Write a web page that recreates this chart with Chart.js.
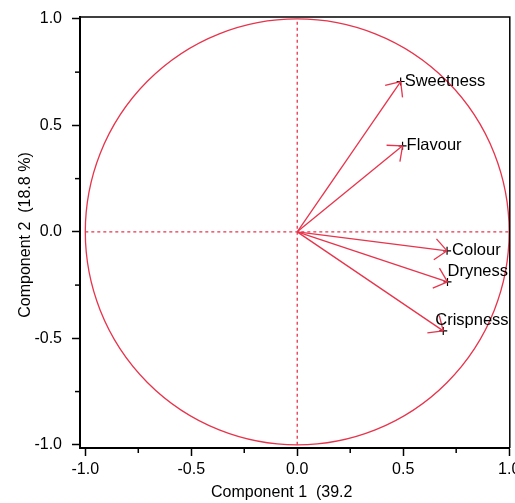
<!DOCTYPE html>
<html>
<head>
<meta charset="utf-8">
<script src="https://cdn.jsdelivr.net/npm/chart.js@4"></script>
<style>
  body { margin: 0; background: #fff; }
  canvas { display: block; }
</style>
</head>
<body>
<canvas id="loadingPlot" width="515" height="503"></canvas>
<script>
// loadings
const variables = ['Sweetness', 'Flavour', 'Colour', 'Dryness', 'Crispness'];
const comp1 = [0.488, 0.497, 0.707, 0.709, 0.689];
const comp2 = [0.706, 0.404, -0.089, -0.235, -0.465];
const majorTicks = [-1, -0.5, 0, 0.5, 1];
const majorTickLabels = ['-1.0', '-0.5', '0.0', '0.5', '1.0'];
const minorTicks = [-0.75, -0.25, 0.25, 0.75];
const xTitle = 'Component 1  (39.2';
const yTitle = 'Component 2  (18.8 %)';

const RED = '#e8334b';
const FONT = 'Liberation Sans, Arial, sans-serif';
// label nudges in px (to keep labels apart like the original)
const labelNudge = [[4, 0], [4, 0], [5, 0], [0, -10], [-8, -10]];

const points = variables.map((v, i) => ({ x: comp1[i], y: comp2[i] }));

const datasets = [
    { data: [{ x: -1, y: 0 }, { x: 1, y: 0 }], borderDash: [3, 3] },
    { data: [{ x: 0, y: -1 }, { x: 0, y: 1 }], borderDash: [3, 3] }
].map(d => Object.assign(d, {
    showLine: true, borderColor: RED, borderWidth: 1.3, pointRadius: 0
}));

points.forEach(p => {
    datasets.push({
        data: [{ x: 0, y: 0 }, p],
        showLine: true, borderColor: RED, borderWidth: 1.3, pointRadius: 0
    });
});

datasets.push({
    data: points,
    showLine: false,
    pointStyle: 'cross',
    pointRadius: 4,
    borderColor: '#000',
    borderWidth: 1.2
});

const loadingPlugin = {
    id: 'loadingPlugin',
    beforeDatasetsDraw(chart) {
        const { ctx, scales: { x, y } } = chart;
        // unit circle
        const cx = x.getPixelForValue(0), cy = y.getPixelForValue(0);
        const rx = x.getPixelForValue(1) - cx, ry = cy - y.getPixelForValue(1);
        ctx.save();
        ctx.strokeStyle = RED;
        ctx.lineWidth = 1.3;
        ctx.beginPath();
        ctx.ellipse(cx, cy, rx, ry, 0, 0, Math.PI * 2);
        ctx.stroke();
        ctx.restore();
    },
    afterDatasetsDraw(chart) {
        const { ctx, chartArea: a, scales: { x, y } } = chart;
        const cx = x.getPixelForValue(0), cy = y.getPixelForValue(0);
        ctx.save();
        // arrow heads
        ctx.strokeStyle = RED;
        ctx.lineWidth = 1.3;
        points.forEach(p => {
            const px = x.getPixelForValue(p.x), py = y.getPixelForValue(p.y);
            const ang = Math.atan2(cy - py, cx - px);
            [-0.72, 0.72].forEach(d => {
                ctx.beginPath();
                ctx.moveTo(px, py);
                ctx.lineTo(px + 16 * Math.cos(ang + d), py + 16 * Math.sin(ang + d));
                ctx.stroke();
            });
        });
        // labels
        ctx.fillStyle = '#000';
        ctx.font = '16.5px ' + FONT;
        ctx.textAlign = 'left';
        ctx.textBaseline = 'middle';
        points.forEach((p, i) => {
            const px = x.getPixelForValue(p.x), py = y.getPixelForValue(p.y);
            ctx.fillText(variables[i], px + labelNudge[i][0], py + labelNudge[i][1]);
        });
        // frame top / right
        ctx.strokeStyle = '#000';
        ctx.lineWidth = 1.5;
        ctx.beginPath();
        ctx.moveTo(a.left, a.top);
        ctx.lineTo(a.right, a.top);
        ctx.lineTo(a.right, a.bottom);
        ctx.stroke();
        // minor ticks
        minorTicks.forEach(v => {
            const tx = x.getPixelForValue(v);
            ctx.beginPath();
            ctx.moveTo(tx, a.bottom);
            ctx.lineTo(tx, a.bottom + 5);
            ctx.stroke();
            const ty = y.getPixelForValue(v);
            ctx.beginPath();
            ctx.moveTo(a.left, ty);
            ctx.lineTo(a.left - 5, ty);
            ctx.stroke();
        });
        // axis titles
        ctx.font = '16px ' + FONT;
        ctx.textAlign = 'left';
        ctx.textBaseline = 'middle';
        ctx.fillText(xTitle, 211, 493);
        ctx.translate(26, 235);
        ctx.rotate(-Math.PI / 2);
        ctx.textAlign = 'center';
        ctx.fillText(yTitle, 0, 0);
        ctx.restore();
    }
};

function axis(min, max, size, isX) {
    return {
        type: 'linear',
        min: min,
        max: max,
        afterBuildTicks(scale) {
            scale.ticks = majorTicks.map(v => ({ value: v }));
        },
        afterFit(scale) {
            if (isX) scale.height = size; else scale.width = size;
            scale.paddingLeft = 0;
            scale.paddingRight = 0;
            scale.paddingTop = 0;
            scale.paddingBottom = 0;
        },
        border: { display: true, color: '#000', width: 2 },
        grid: {
            drawOnChartArea: false,
            drawTicks: true,
            tickLength: 8,
            tickWidth: 1.5,
            tickColor: '#000'
        },
        ticks: {
            color: '#000',
            font: { family: FONT, size: 16 },
            padding: isX ? 4 : 10,
            maxRotation: 0,
            autoSkip: false,
            callback: v => majorTickLabels[majorTicks.indexOf(v)]
        }
    };
}

new Chart(document.getElementById('loadingPlot').getContext('2d'), {
    type: 'scatter',
    data: { datasets: datasets },
    options: {
        responsive: false,
        animation: false,
        layout: { padding: { top: 17, right: 3, left: 0, bottom: 0 } },
        plugins: {
            legend: { display: false },
            tooltip: { enabled: false }
        },
        scales: {
            x: axis(-1.025, 1.003, 55, true),
            y: axis(-1.015, 1.009, 80, false)
        }
    },
    plugins: [loadingPlugin]
});
</script>
</body>
</html>
